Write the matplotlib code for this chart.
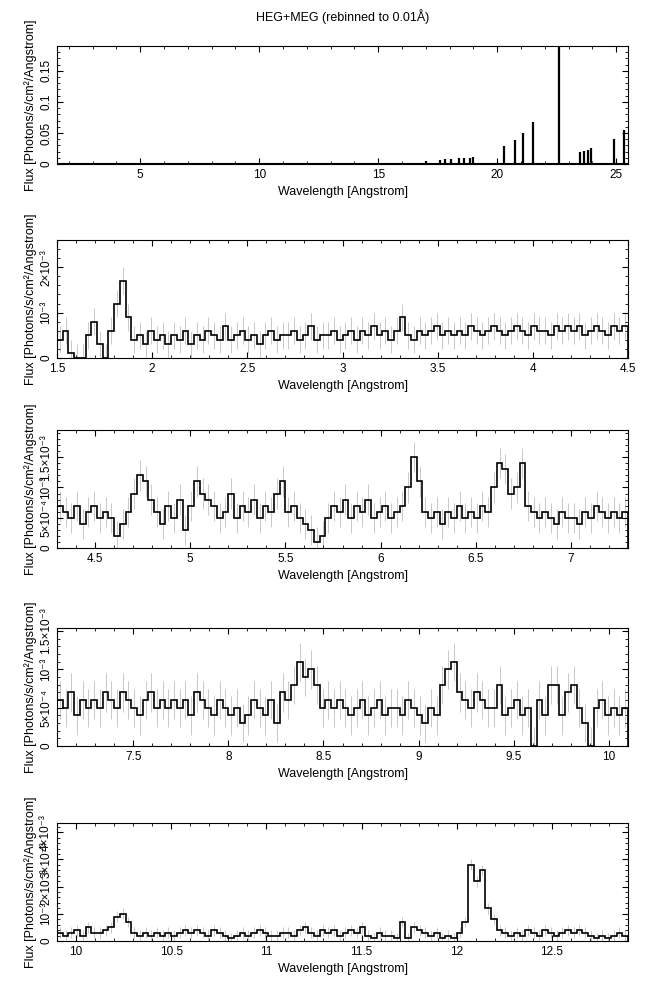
import numpy as np
import matplotlib
matplotlib.use("Agg")
import matplotlib.pyplot as plt
from matplotlib.ticker import AutoMinorLocator

plt.rcParams['font.family'] = ['Liberation Sans', 'DejaVu Sans']
plt.rcParams['font.size'] = 8

# Panel 1: overview line positions (Angstrom) and peak fluxes
line_wl = [12.1, 13.45, 15.3, 16.0, 16.3, 17.0, 17.6, 17.8, 18.05, 18.4, 18.6, 18.85, 18.97,
           20.3, 20.75, 21.1, 21.5, 22.6, 23.5, 23.65, 23.8, 23.95, 24.9, 25.35]
line_flux = [0.002, 0.0015, 0.002, 0.002, 0.002, 0.005, 0.007, 0.008, 0.008, 0.009, 0.009, 0.010, 0.012,
             0.029, 0.038, 0.050, 0.067, 0.190, 0.020, 0.021, 0.023, 0.025, 0.041, 0.054]
continuum_level = 0.0006

bin_width = 0.03
starts = [1.50, 4.30, 7.10, 9.90]

# Flux in units of 1e-4 photons/s/cm^2/A
flux_p2 = [4,6,1,0,0,5,8,3,0,6, 12,17,9,4,5,3,6,4,5,3, 5,4,6,3,5,4,6,5,4,7,
           4,5,6,4,5,3,5,6,4,5, 5,6,4,5,7,4,5,5,6,4, 5,6,4,6,5,7,5,6,4,6,
           9,5,4,6,5,6,7,5,6,5, 6,5,7,6,5,6,7,6,5,6, 7,6,5,7,6,6,5,7,6,7,
           6,7,5,6,7,6,5,7,6,7]
flux_p3 = [7,6,5,7,4,6,7,5,6,5, 2,4,6,9,12,11,8,6,4,7, 5,8,3,7,11,9,8,7,5,6,
           9,5,7,6,8,5,7,6,9,11, 6,7,5,4,3,1,2,5,7,6, 8,5,7,6,8,5,6,7,5,6,
           7,10,15,11,6,5,6,4,6,5, 7,5,6,5,7,6,10,14,13,9, 10,14,7,6,5,6,5,4,6,5,
           5,4,6,5,7,6,5,6,5,6]
flux_p4 = [6,5,7,4,6,5,6,5,7,6, 5,7,6,5,4,6,7,5,6,5, 6,5,6,4,7,6,5,4,6,5,
           4,5,3,4,6,5,4,6,3,7, 6,8,11,9,10,8,5,6,5,6, 5,4,5,6,4,5,6,4,5,5,
           4,6,5,4,3,5,4,8,10,11, 7,6,5,7,6,5,5,8,4,5, 6,4,5,0,6,4,8,8,4,7,
           8,5,3,0,5,6,4,5,4,5]
flux_p5 = [3,2,3,4,2,5,3,3,4,5, 9,10,7,3,2,3,2,3,2,3, 2,3,4,3,4,3,2,4,3,2,
           1,2,3,2,3,4,3,2,2,3, 3,2,4,5,3,2,4,3,4,2, 3,4,3,5,2,1,3,2,2,1,
           7,1,5,4,3,2,3,1,2,1, 3,7,28,22,26,12,8,4,3,2, 3,2,4,3,2,4,3,2,3,4,
           3,4,3,2,1,2,1,2,3,2]
flux_err = [3, 2.5, 2.5, 2.0]  # typical 1-sigma errors, 1e-4 units

xlims = [(1.5, 4.5), (4.3, 7.3), (7.1, 10.1), (9.9, 12.9)]
ylims = [2.6e-3, 1.95e-3, 1.54e-3, 4.34e-3]
yticks = [[0, 1e-3, 2e-3], [0, 5e-4, 1e-3, 1.5e-3], [0, 5e-4, 1e-3, 1.5e-3], [0, 1e-3, 2e-3, 3e-3, 4e-3]]
yticklabels = [['0', '10⁻³', '2×10⁻³'],
               ['0', '5×10⁻⁴', '10⁻³', '1.5×10⁻³'],
               ['0', '5×10⁻⁴', '10⁻³', '1.5×10⁻³'],
               ['0', '10⁻³', '2×10⁻³', '3×10⁻³', '4×10⁻³']]
xticks = [[1.5, 2, 2.5, 3, 3.5, 4, 4.5], [4.5, 5, 5.5, 6, 6.5, 7], [7.5, 8, 8.5, 9, 9.5, 10],
          [10, 10.5, 11, 11.5, 12, 12.5]]

W, H = 650, 991
fig = plt.figure(figsize=(W/100, H/100), dpi=100)
left, right = 57, 628
bottoms = [164, 358, 548, 746, 941]
h = 118
axes = [fig.add_axes([left/W, 1-b/H, (right-left)/W, h/H]) for b in bottoms]

def style(ax):
    ax.tick_params(direction='in', which='both', top=True, right=True, labelsize=8.5, length=4)
    ax.tick_params(which='minor', length=2)
    ax.tick_params(axis='y', labelrotation=90)
    for lab in ax.get_yticklabels():
        lab.set_va('center')
    for s in ax.spines.values():
        s.set_linewidth(0.8)
    ax.set_xlabel('Wavelength [Angstrom]', fontsize=9)
    ax.set_ylabel('Flux [Photons/s/cm²/Angstrom]', fontsize=9, labelpad=2)

ax = axes[0]
ax.plot([1.5, 25.5], [continuum_level]*2, color='black', lw=1.5)
ax.vlines(line_wl, 0, line_flux, color='black', lw=1.6)
ax.set_xlim(1.5, 25.5)
ax.set_ylim(0, 0.19)
ax.set_xticks([5, 10, 15, 20, 25])
ax.set_yticks([0, 0.05, 0.1, 0.15])
ax.set_yticklabels(['0', '0.05', '0.1', '0.15'])
ax.xaxis.set_minor_locator(AutoMinorLocator(5))
ax.yaxis.set_minor_locator(AutoMinorLocator(5))
style(ax)
ax.set_title('HEG+MEG (rebinned to 0.01Å)', fontsize=9, pad=18)

for i, fl in enumerate([flux_p2, flux_p3, flux_p4, flux_p5]):
    ax = axes[i+1]
    f = np.array(fl, dtype=float) * 1e-4
    edges = starts[i] + bin_width*np.arange(len(f)+1)
    centers = 0.5*(edges[:-1]+edges[1:])
    e = flux_err[i]*1e-4
    ax.vlines(centers, np.clip(f-e, 0, None), f+e, color='#c8c8c8', lw=0.7, zorder=1)
    ax.stairs(f, edges, color='black', lw=1.2, zorder=2)
    ax.set_xlim(*xlims[i])
    ax.set_ylim(0, ylims[i])
    ax.set_xticks(xticks[i])
    ax.set_xticklabels([f'{t:g}' for t in xticks[i]])
    ax.set_yticks(yticks[i])
    ax.set_yticklabels(yticklabels[i])
    ax.xaxis.set_minor_locator(AutoMinorLocator(5))
    ax.yaxis.set_minor_locator(AutoMinorLocator(5))
    style(ax)

fig.savefig('out.png', dpi=100)
